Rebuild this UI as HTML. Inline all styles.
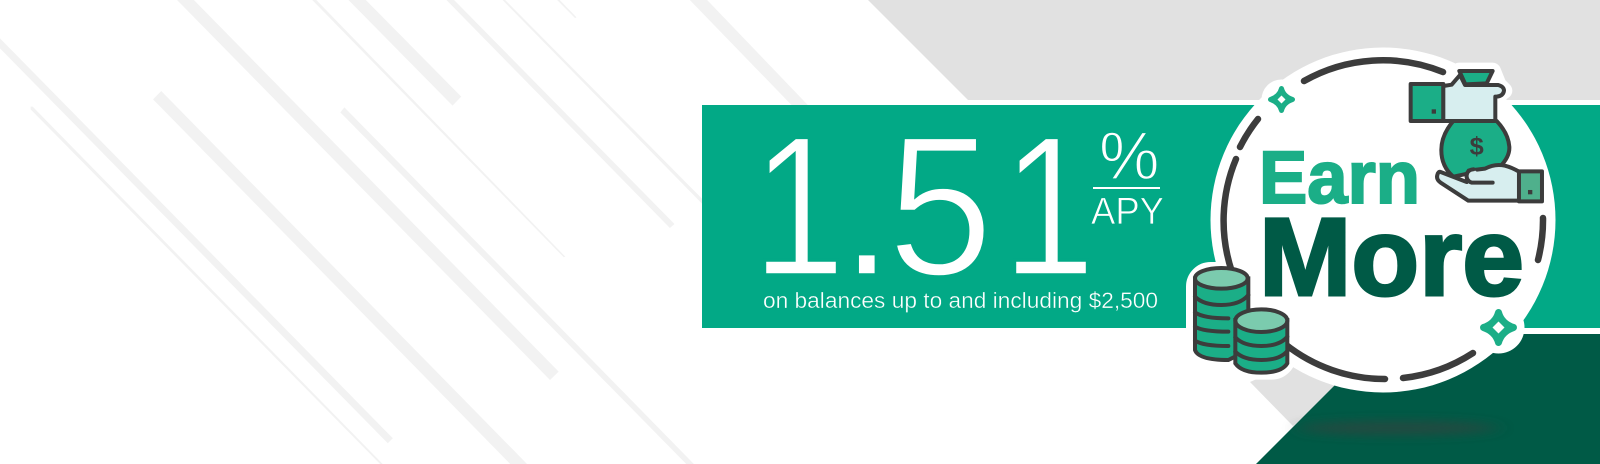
<!DOCTYPE html>
<html lang="en">
<head>
<meta charset="utf-8">
<title>Earn More 1.51% APY</title>
<style>
html,body{margin:0;padding:0;background:#fff;width:1600px;height:464px;overflow:hidden}
svg{display:block}
text{font-family:"Liberation Sans",sans-serif}
</style>
</head>
<body>
<svg xmlns="http://www.w3.org/2000/svg" width="1600" height="464" viewBox="0 0 1600 464">
  <defs>
    <filter id="blur" x="-30%" y="-200%" width="160%" height="500%"><feGaussianBlur stdDeviation="9 5"/></filter>
  </defs>

  <g fill="#f2f2f2" transform="scale(.5102 .3333)">
    <polygon points="0,115 770,1315 760,1330 0,145"/>
    <polygon points="60,320 64,320 750,1392 745,1392 60,328"/>
    <polygon points="300,298 316,273 1033,1392 1000,1392"/>
    <polygon points="347,0 380,0 1095,1115 1078,1140"/>
    <polygon points="667,337 675,322 1360,1392 1345,1392"/>
    <polygon points="612,0 620,0 1108,770 1105,772"/>
    <polygon points="683,0 717,0 904,290 887,317"/>
    <polygon points="875,0 890,0 1322,672 1313,684"/>
    <polygon points="985,0 990,0 1385,610 1385,625"/>
    <polygon points="1092,0 1097,0 1130,52 1127,54"/>
    <polygon points="1352,0 1386,0 1584,316 1552,316"/>
  </g>

  <polygon fill="#e1e1e1" points="868,0 1600,0 1600,100 968,100"/>
  <polygon fill="#e1e1e1" points="1250,382 1300,360 1340,386 1293,426"/>
  <rect x="702" y="105" width="898" height="223" fill="#02a986"/>
  <polygon fill="#005a46" points="1256,464 1386,334 1600,334 1600,464"/>
  <ellipse cx="1398" cy="428" rx="100" ry="7" fill="#3a3f3d" opacity=".6" filter="url(#blur)"/>

  <circle cx="1383" cy="220" r="172.5" fill="#fff"/>

  <g transform="translate(1170 250) scale(.3333)" fill="#fff" stroke="#fff" stroke-width="48" stroke-linejoin="round">
    <rect x="72" y="60" width="163" height="270" rx="50"/>
    <rect x="192" y="185" width="163" height="180" rx="50"/>
  </g>

  <g fill="none" stroke="#3c3c3c" stroke-width="6.5" stroke-linecap="round">
    <path d="M1304,81 A160,160 0 0 1 1443,72"/>
    <path d="M1258,119 A160,160 0 0 0 1240,147"/>
    <path d="M1236,159 A160,160 0 0 0 1232,272"/>
    <path d="M1543,218 A160,160 0 0 1 1538,260"/>
    <path d="M1285,344 A160,160 0 0 0 1385,379"/>
    <path d="M1403,378 A160,160 0 0 0 1473,353"/>
  </g>

  <g font-size="200" fill="#fff" stroke="#02a986" stroke-width="3.4">
    <text transform="translate(752 275) scale(.84 1)">1</text>
    <text x="839" y="275">.</text>
    <text transform="translate(887.5 275) scale(.95 1)">5</text>
    <text transform="translate(1002 275) scale(.84 1)">1</text>
  </g>
  <text x="1099" y="179" font-size="68" fill="#fff" stroke="#02a986" stroke-width="1.4">%</text>
  <rect x="1093" y="187" width="67" height="2" fill="#fff"/>
  <text x="1091" y="224" font-size="38" textLength="73" lengthAdjust="spacingAndGlyphs" fill="#fff" stroke="#02a986" stroke-width=".7">APY</text>
  <text x="763" y="308" font-size="22" textLength="395" lengthAdjust="spacingAndGlyphs" fill="#fff" stroke="#02a986" stroke-width=".35">on balances up to and including $2,500</text>

  <text x="1259" y="203" font-size="74" font-weight="700" textLength="161" lengthAdjust="spacingAndGlyphs" fill="#1bae87" stroke="#1bae87" stroke-width="2">Earn</text>
  <text x="1259" y="295" font-size="110" font-weight="700" textLength="265" lengthAdjust="spacingAndGlyphs" fill="#005a46" stroke="#005a46" stroke-width="3">More</text>

  <g transform="translate(1370 50) scale(.3333)">
    <g fill="#fff" stroke="#fff" stroke-width="50" stroke-linejoin="round">
      <path d="M268,63 L368,63 L385,105 L402,122 L376,140 L376,213 L220,213 L245,104 Z"/>
    </g>
    <path d="M250,213 Q214,255 214,300 Q214,350 250,380 L390,350 Q420,320 418,290 Q415,250 380,213 Z" fill="#1bae87" stroke="#3c3c3c" stroke-width="12" stroke-linejoin="round"/>
    <text x="320" y="313" font-size="76" font-weight="700" text-anchor="middle" fill="#3c3c3c">$</text>
    <rect x="122" y="102" width="98" height="111" fill="#1bae87" stroke="#3c3c3c" stroke-width="12" stroke-linejoin="round"/>
    <rect x="185" y="178" width="13" height="13" fill="#3c3c3c"/>
    <path d="M220,108 L245,104 L270,75 L285,105 L385,105 Q402,110 402,122 Q400,138 380,140 L376,140 L376,213 L220,213 Z" fill="#d7eeef" stroke="#3c3c3c" stroke-width="12" stroke-linejoin="round"/>
    <path d="M268,63 L368,63 L350,100 L286,103 Z" fill="#1bae87" stroke="#3c3c3c" stroke-width="12" stroke-linejoin="round"/>
    <path d="M212,366 L290,396 L296,362 L345,356 Q375,340 405,347 Q425,352 447,365 L447,452 L295,452 L212,398 Q198,388 202,375 Q205,363 212,366 Z" fill="#d7eeef" stroke="#3c3c3c" stroke-width="12" stroke-linejoin="round"/>
    <path d="M368,398 L305,398 Q288,392 290,375 Q292,360 310,358" fill="#d7eeef" stroke="#3c3c3c" stroke-width="12" stroke-linecap="round"/>
    <rect x="447" y="364" width="69" height="90" fill="#4fb08c" stroke="#3c3c3c" stroke-width="12" stroke-linejoin="round"/>
    <rect x="474" y="420" width="13" height="13" fill="#3c3c3c"/>
  </g>

  <g transform="translate(1170 250) scale(.3333)">
    <g stroke="#3c3c3c" stroke-width="12" stroke-linecap="round">
      <path d="M75,85 L75,300 Q85,330 175,330 L235,300 L235,85 Z" fill="#1bae87"/>
      <path d="M75,140 Q100,165 154,165 Q210,165 235,135" fill="none"/>
      <path d="M75,187 Q100,205 175,205" fill="none"/>
      <path d="M75,230 Q100,245 175,245" fill="none"/>
      <path d="M75,272 Q100,288 175,288" fill="none"/>
      <ellipse cx="154" cy="85" rx="79" ry="31" fill="#7bcbae"/>
    </g>
    <g stroke="#3c3c3c" stroke-width="12" stroke-linecap="round">
      <path d="M196,210 L196,340 Q215,368 274,368 Q335,368 352,340 L352,210 Z" fill="#1bae87"/>
      <path d="M196,262 Q220,288 274,288 Q330,288 352,260" fill="none"/>
      <path d="M196,305 Q220,330 274,330 Q330,330 352,303" fill="none"/>
      <ellipse cx="274" cy="212" rx="78" ry="34" fill="#7bcbae"/>
    </g>
  </g>

  <g transform="translate(1281.5 99.5)">
    <circle r="20" fill="#fff"/>
    <path d="M0,-11 Q2,-3 11,0 Q2,3 0,11 Q-2,3 -11,0 Q-2,-3 0,-11 Z" fill="#1bae87" stroke="#1bae87" stroke-width="5" stroke-linejoin="round"/>
    <path d="M0,-4 L-4,0 L0,4 L4,0 Z" fill="#fff"/>
  </g>
  <g transform="translate(1498.5 327.5)">
    <circle r="26" fill="#fff"/>
    <path d="M0,-15 Q3,-4 15,0 Q3,4 0,15 Q-3,4 -15,0 Q-3,-4 0,-15 Z" fill="#1bae87" stroke="#1bae87" stroke-width="7" stroke-linejoin="round"/>
    <path d="M0,-6 L-6,0 L0,6 L6,0 Z" fill="#fff"/>
  </g>
</svg>
</body>
</html>
